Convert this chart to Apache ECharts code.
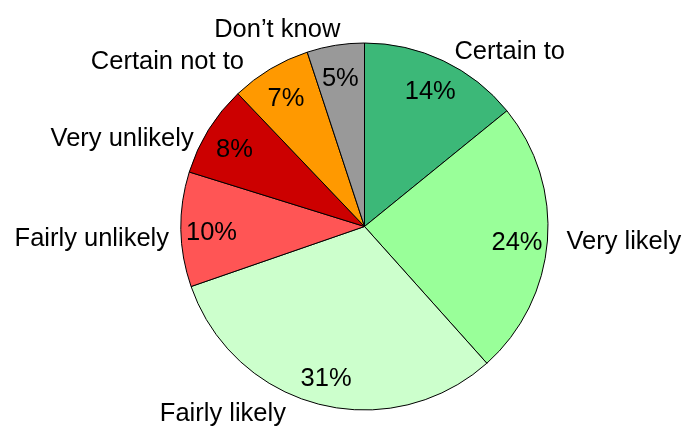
<!DOCTYPE html>
<html>
<head>
<meta charset="utf-8">
<script src="https://cdn.jsdelivr.net/npm/echarts@6/dist/echarts.min.js"></script>
<style>
  html, body { margin: 0; padding: 0; background: #ffffff; }
  #chart { width: 684px; height: 428px; }
</style>
</head>
<body>
<div id="chart"></div>
<script>
// Likelihood answers, clockwise from twelve o'clock
const categories = ['Certain to', 'Very likely', 'Fairly likely', 'Fairly unlikely', 'Very unlikely', 'Certain not to', 'Don\u2019t know'];
const shares = [14, 24, 31, 10, 8, 7, 5];
const sliceColors = ['#3cb878', '#99ff99', '#ccffcc', '#ff5555', '#cc0000', '#ff9900', '#999999'];
// small per-answer nudges for the outside name labels [dx, dy]
const nameLabelNudge = [[0, 4], [0, 0], [-24, 0], [2, 11], [-3, 17], [-14, 2], [12, -2]];

const FONT = '"Liberation Sans", Arial, sans-serif';
const FONT_SIZE = 25.5;
const center = [364.5, 226.5];

const chart = echarts.init(document.getElementById('chart'), null, { renderer: 'canvas' });

const sliceData = categories.map((name, i) => ({
  name,
  value: shares[i],
  itemStyle: { color: sliceColors[i] }
}));

chart.setOption({
  animation: false,
  backgroundColor: '#ffffff',
  series: [
    {
      // filled slices with category names outside
      type: 'pie',
      center,
      radius: 183.5,
      startAngle: 90,
      clockwise: true,
      silent: true,
      itemStyle: { borderColor: '#000000', borderWidth: 1 },
      label: {
        show: true,
        position: 'outside',
        formatter: '{b}',
        fontFamily: FONT,
        fontSize: FONT_SIZE,
        color: '#000000',
        overflow: 'none'
      },
      labelLine: { show: false, length: 14, length2: 0 },
      labelLayout: (p) => ({
        hideOverlap: false,
        moveOverlap: false,
        dx: nameLabelNudge[p.dataIndex][0],
        dy: nameLabelNudge[p.dataIndex][1]
      }),
      data: sliceData
    },
    {
      // transparent ring that carries the percentage labels
      type: 'pie',
      center,
      radius: [120, 180],
      startAngle: 90,
      clockwise: true,
      silent: true,
      itemStyle: { color: 'rgba(0,0,0,0)', borderWidth: 0 },
      label: {
        show: true,
        position: 'inside',
        formatter: '{c}%',
        fontFamily: FONT,
        fontSize: FONT_SIZE,
        color: '#000000'
      },
      labelLine: { show: false },
      labelLayout: { dy: 4 },
      data: categories.map((name, i) => ({ name, value: shares[i] }))
    }
  ]
});
</script>
</body>
</html>
